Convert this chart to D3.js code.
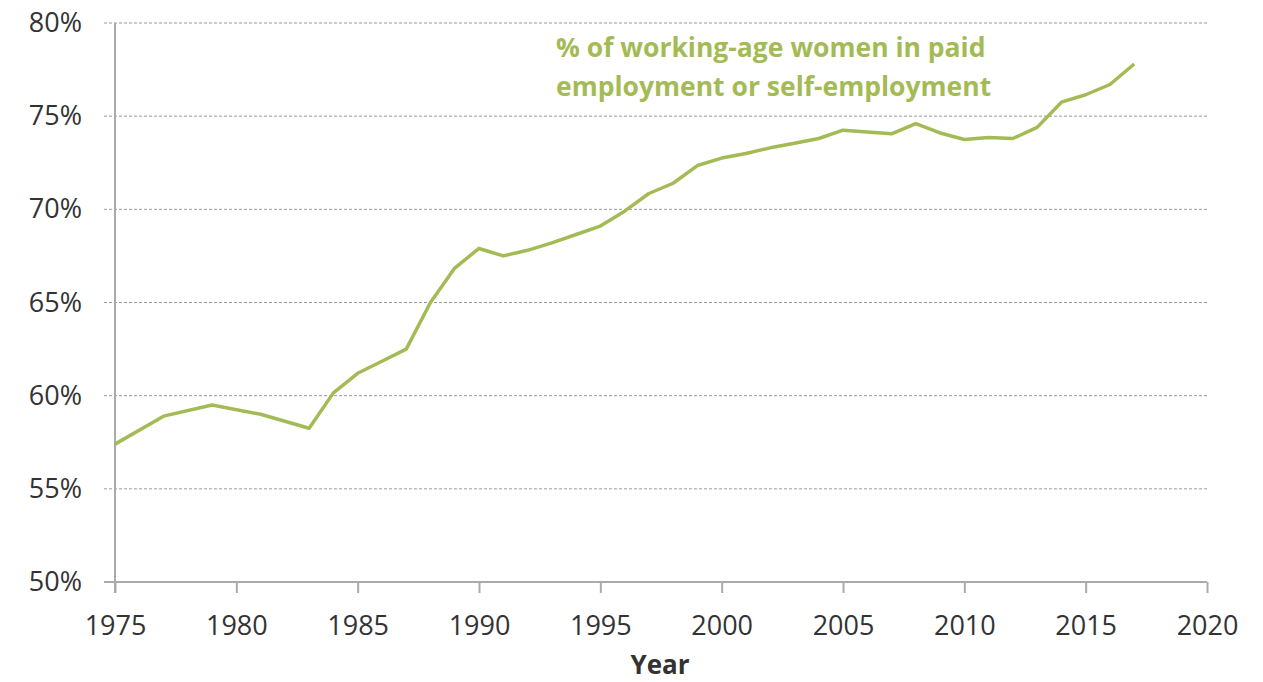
<!DOCTYPE html>
<html>
<head>
<meta charset="utf-8">
<script src="https://cdn.jsdelivr.net/npm/d3@7"></script>
<style>
  body { margin: 0; background: #fff; }
  text { font-family: "Open Sans", sans-serif; }
</style>
</head>
<body>
<script>
// données
const annees = [1975, 1977, 1979, 1981, 1983, 1984, 1985, 1986, 1987, 1988, 1989, 1990,
  1991, 1992, 1993, 1994, 1995, 1996, 1997, 1998, 1999, 2000, 2001, 2002, 2003, 2004,
  2005, 2006, 2007, 2008, 2009, 2010, 2011, 2012, 2013, 2014, 2015, 2016, 2017];
const taux = [57.4, 58.9, 59.5, 59.0, 58.25, 60.15, 61.2, 61.85, 62.5, 65.0, 66.85, 67.9,
  67.5, 67.8, 68.2, 68.65, 69.1, 69.9, 70.85, 71.4, 72.35, 72.75, 73.0, 73.3, 73.55, 73.8,
  74.25, 74.15, 74.05, 74.6, 74.1, 73.75, 73.85, 73.8, 74.4, 75.75, 76.15, 76.7, 77.8];
const ticksX = [1975, 1980, 1985, 1990, 1995, 2000, 2005, 2010, 2015, 2020];
const ticksY = [50, 55, 60, 65, 70, 75, 80];
const etiquette = ["% of working-age women in paid", "employment or self-employment"];

const donnees = annees.map((a, i) => ({annee: a, valeur: taux[i]}));

const largeur = 1263, hauteur = 682;
const vert = '#a4bb55';

const canevas = d3.select('body')
  .append('svg')
  .attr('width', largeur)
  .attr('height', hauteur);

const x = d3.scaleLinear().domain([1975, 2020]).range([115, 1207]);
const y = d3.scaleLinear().domain([50, 80]).range([582, 23]);

// lignes de grille
canevas.append('g')
  .selectAll('line')
  .data(ticksY.filter(d => d > 50))
  .join('line')
  .attr('x1', 104).attr('x2', 1207)
  .attr('y1', d => y(d)).attr('y2', d => y(d))
  .attr('stroke', '#9a9a9a')
  .attr('stroke-width', 1)
  .attr('stroke-dasharray', '3,2');

// axe x
const axeX = canevas.append('g')
  .attr('transform', `translate(0,${y(50)})`)
  .call(d3.axisBottom(x).tickValues(ticksX).tickFormat(d3.format('d')).tickSize(11).tickPadding(23).tickSizeOuter(0));
axeX.select('.domain').attr('stroke', '#aaa').attr('stroke-width', 2)
  .attr('d', `M104,0H1207`);
axeX.selectAll('.tick line').attr('stroke', '#aaa').attr('stroke-width', 2);
axeX.selectAll('.tick text').attr('fill', '#333').style('font-size', '27px');

// axe y
const axeY = canevas.append('g')
  .attr('transform', `translate(${x(1975)},0)`)
  .call(d3.axisLeft(y).tickValues(ticksY).tickFormat(d => d + '%').tickSize(0).tickPadding(33));
axeY.select('.domain').attr('stroke', '#aaa').attr('stroke-width', 2)
  .attr('d', `M0,${y(80)}V${y(50) + 11}`);
axeY.selectAll('.tick text').attr('fill', '#333').style('font-size', '27px');

// titre de l'axe
canevas.append('text')
  .attr('x', 660).attr('y', 674)
  .attr('text-anchor', 'middle')
  .attr('fill', '#333')
  .style('font-size', '26px')
  .style('font-weight', 'bold')
  .text('Year');

// la courbe
const ligne = d3.line()
  .x(d => x(d.annee))
  .y(d => y(d.valeur));

canevas.append('path')
  .datum(donnees)
  .attr('d', ligne)
  .attr('fill', 'none')
  .attr('stroke', vert)
  .attr('stroke-width', 3.5)
  .attr('stroke-linejoin', 'round');

// étiquette de la série
canevas.append('g')
  .selectAll('text')
  .data(etiquette)
  .join('text')
  .attr('x', 556)
  .attr('y', (d, i) => 57 + i * 39)
  .attr('fill', vert)
  .style('font-size', '26.5px')
  .style('font-weight', 'bold')
  .text(d => d);
</script>
</body>
</html>
